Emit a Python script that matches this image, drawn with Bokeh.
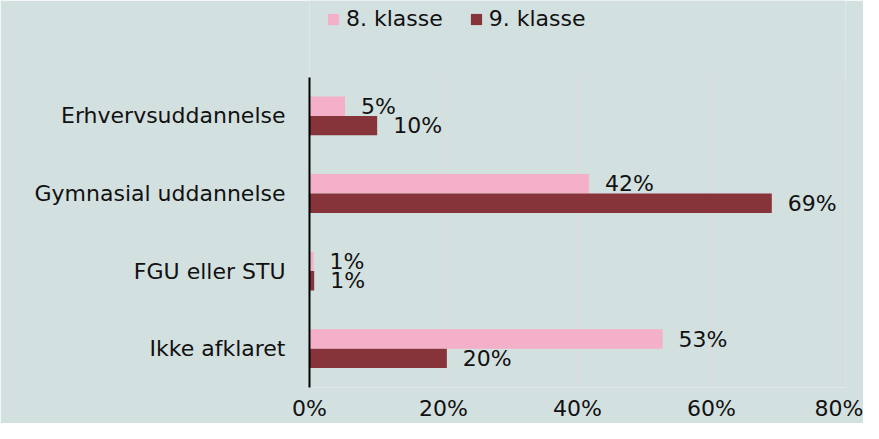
from bokeh.plotting import figure
from bokeh.models import ColumnDataSource, Legend, LegendItem, Range1d, FixedTicker, CustomJSTickFormatter
from bokeh.transform import dodge
from bokeh.core.properties import value
from bokeh.embed import file_html
from bokeh.resources import INLINE

categories = ["Erhvervsuddannelse", "Gymnasial uddannelse", "FGU eller STU", "Ikke afklaret"]
klasse8 = [5.3, 41.7, 0.6, 52.7]
klasse9 = [10.1, 69.0, 0.7, 20.5]
series_names = ["8. klasse", "9. klasse"]
x_ticks = [0, 20, 40, 60, 80]

FONT = "DejaVu Sans"
FS = "22px"
BG = "#d3e0e0"
PINK = "#f4b0c8"
DARK = "#86343a"
GRID = "#dcd9da"
TXT = "#111111"

n = len(categories)
ypos = [n - i for i in range(n)]          # top category first

src = ColumnDataSource(dict(
    cat=categories,
    y=ypos,
    v8=klasse8,
    v9=klasse9,
    l8=[f"{round(v)}%" for v in klasse8],
    l9=[f"{round(v)}%" for v in klasse9],
))
grid_src = ColumnDataSource(dict(x=x_ticks))

H, W = 423, 863
FRAME_BOTTOM_PAD = 34          # px from figure bottom to frame bottom
CAT_TOP_PX = 77                # px from figure top to top of category area
span_px = H - FRAME_BOTTOM_PAD - CAT_TOP_PX
px_per_unit = span_px / n
y_top = n + 0.5 + CAT_TOP_PX / px_per_unit

p = figure(width=W, height=H, output_backend="svg", toolbar_location=None,
           x_range=Range1d(0, 80), y_range=Range1d(0.5, y_top),
           min_border_left=309, min_border_right=18, min_border_bottom=FRAME_BOTTOM_PAD,
           min_border_top=0)
p.background_fill_color = BG
p.border_fill_color = BG
p.outline_line_color = None

p.segment(x0="x", x1="x", y0=0.5, y1=n + 0.5, source=grid_src,
          line_color=GRID, line_width=1.5)

r8 = p.hbar(y=dodge("y", 0.125), right="v8", left=0, height=0.25,
            source=src, fill_color=PINK, line_color=None)
r9 = p.hbar(y=dodge("y", -0.125), right="v9", left=0, height=0.25,
            source=src, fill_color=DARK, line_color=None)

p.text(x="v8", y=dodge("y", 0.125), text="l8", source=src,
       x_offset=16, text_baseline="middle", text_align="left",
       text_font=value(FONT), text_font_size=FS, text_color=TXT)
p.text(x="v9", y=dodge("y", -0.125), text="l9", source=src,
       x_offset=16, text_baseline="middle", text_align="left",
       text_font=value(FONT), text_font_size=FS, text_color=TXT)

p.xaxis.ticker = FixedTicker(ticks=x_ticks)
p.xaxis.formatter = CustomJSTickFormatter(code="return tick + '%';")
p.xaxis.axis_line_color = None
p.xaxis.major_tick_line_color = None
p.xaxis.minor_tick_line_color = None
p.xaxis.major_tick_out = 0
p.xaxis.major_tick_in = 0
p.xaxis.major_label_standoff = 8
p.xaxis.major_label_text_font = FONT
p.xaxis.major_label_text_font_size = FS
p.xaxis.major_label_text_color = TXT

p.yaxis.ticker = FixedTicker(ticks=ypos)
p.yaxis.major_label_overrides = {y: c for y, c in zip(ypos, categories)}
p.yaxis.bounds = (0.5, n + 0.5)
p.yaxis.axis_line_color = "black"
p.yaxis.axis_line_width = 2
p.yaxis.major_tick_line_color = None
p.yaxis.minor_tick_line_color = None
p.yaxis.major_tick_out = 0
p.yaxis.major_tick_in = 0
p.yaxis.major_label_standoff = 24
p.yaxis.major_label_text_font = FONT
p.yaxis.major_label_text_font_size = FS
p.yaxis.major_label_text_color = TXT

p.xgrid.visible = False
p.ygrid.visible = False

legend = Legend(items=[LegendItem(label=series_names[0], renderers=[r8]),
                       LegendItem(label=series_names[1], renderers=[r9])],
                orientation="horizontal", location=(17, H - FRAME_BOTTOM_PAD - 33),
                label_text_font=FONT, label_text_font_size=FS, label_text_color=TXT,
                glyph_width=14, glyph_height=14, label_standoff=6, spacing=26,
                background_fill_alpha=0, border_line_color=None, padding=0, margin=0)
p.add_layout(legend, "center")

open("out.html", "w").write(file_html(p, INLINE))
